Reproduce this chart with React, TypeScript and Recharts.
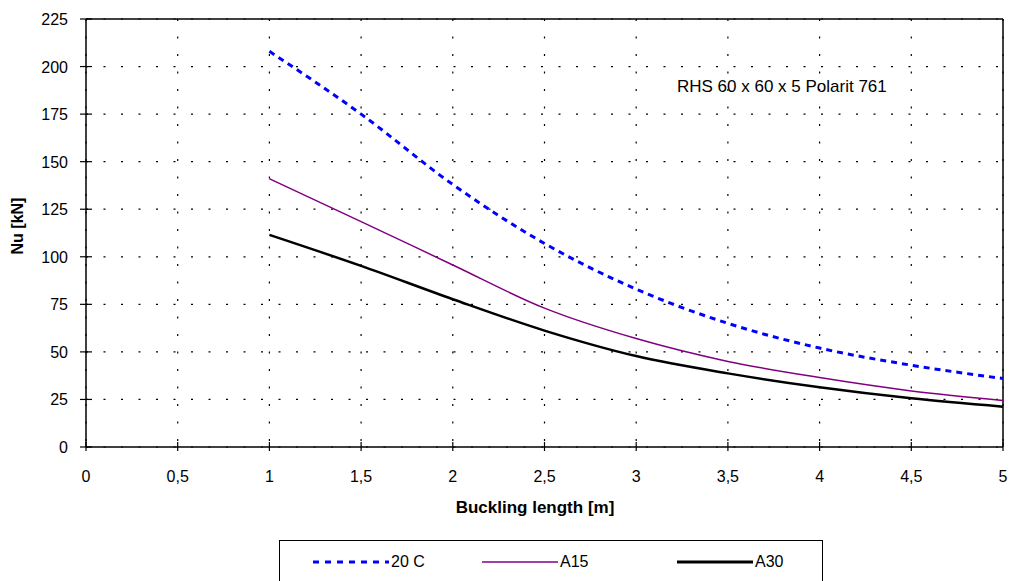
import { LineChart, Line, XAxis, YAxis, CartesianGrid, ReferenceLine } from 'recharts';

// buckling length [m]
const lengths = [1, 1.5, 2, 2.5, 3, 3.5, 4, 4.5, 5];
// Nu [kN] per fire class
const nu20C = [208, 175, 138, 107, 83, 65, 52, 43, 36];
const nuA15 = [141, 118.5, 95.7, 73, 57, 45, 36.5, 29.5, 24.5];
const nuA30 = [111.5, 95.2, 77.7, 61.2, 47.8, 38.7, 31.4, 25.6, 21.2];

const xTicks = [0, 0.5, 1, 1.5, 2, 2.5, 3, 3.5, 4, 4.5, 5];
const yTicks = [0, 25, 50, 75, 100, 125, 150, 175, 200, 225];

const seriesNames = ['20 C', 'A15', 'A30'];

const FONT = '"Liberation Sans", Arial, sans-serif';

const data = lengths.map((x, i) => ({
  x,
  c20: nu20C[i],
  a15: nuA15[i],
  a30: nuA30[i],
}));

const fmt = (v: number) => String(v).replace('.', ',');

// tick mark crosses the axis line, like the old Excel look
function XTick(props: any) {
  const { x, y, payload } = props;
  return (
    <g>
      <line x1={x} x2={x} y1={y - 5} y2={y + 4} stroke="#000" strokeWidth={1.2} />
      <text x={x} y={y + 35} textAnchor="middle" fontSize={16} fontFamily={FONT} fill="#000">
        {fmt(payload.value)}
      </text>
    </g>
  );
}

function YTick(props: any) {
  const { x, y, payload } = props;
  return (
    <g>
      <line x1={x - 6} x2={x + 6} y1={y} y2={y} stroke="#000" strokeWidth={1.2} />
      <text x={x - 18} y={y + 6} textAnchor="end" fontSize={16} fontFamily={FONT} fill="#000">
        {payload.value}
      </text>
    </g>
  );
}

function LegendSwatch({ color, width, dash }: { color: string; width: number; dash?: string }) {
  return (
    <svg width={76} height={8} style={{ display: 'block' }}>
      <line x1={0} x2={76} y1={4} y2={4} stroke={color} strokeWidth={width} strokeDasharray={dash} />
    </svg>
  );
}

export default function App() {
  return (
    <div
      style={{
        position: 'absolute',
        left: 0,
        top: 0,
        width: 1010,
        height: 581,
        overflow: 'hidden',
        background: '#fff',
        fontFamily: FONT,
      }}
    >
      <LineChart width={1010} height={581} data={data} margin={{ top: 19, right: 7, left: 0, bottom: 94 }}>
        <CartesianGrid stroke="#000" strokeWidth={1.2} strokeDasharray="2 15.5" />
        <XAxis
          dataKey="x"
          type="number"
          domain={[0, 5]}
          ticks={xTicks}
          height={40}
          tickSize={0}
          tickMargin={0}
          tickLine={false}
          tick={<XTick />}
          axisLine={{ stroke: '#000', strokeWidth: 1.5 }}
          interval={0}
        />
        <YAxis
          type="number"
          domain={[0, 225]}
          ticks={yTicks}
          width={86}
          tickSize={0}
          tickMargin={0}
          tickLine={false}
          tick={<YTick />}
          axisLine={{ stroke: '#000', strokeWidth: 1.5 }}
          interval={0}
        />
        <ReferenceLine y={225} stroke="#000" strokeWidth={1.5} />
        <ReferenceLine x={5} stroke="#000" strokeWidth={1.5} />
        <Line
          type="monotone"
          dataKey="c20"
          name={seriesNames[0]}
          stroke="#0000FF"
          strokeWidth={3}
          strokeDasharray="6 5"
          dot={false}
          isAnimationActive={false}
        />
        <Line
          type="monotone"
          dataKey="a15"
          name={seriesNames[1]}
          stroke="#800080"
          strokeWidth={1.5}
          dot={false}
          isAnimationActive={false}
        />
        <Line
          type="monotone"
          dataKey="a30"
          name={seriesNames[2]}
          stroke="#000"
          strokeWidth={2.5}
          dot={false}
          isAnimationActive={false}
        />
      </LineChart>

      {/* axis titles and note */}
      <div
        style={{
          position: 'absolute',
          left: 18,
          top: 226,
          transform: 'translate(-50%, -50%) rotate(-90deg)',
          fontSize: 16,
          fontWeight: 'bold',
          whiteSpace: 'nowrap',
        }}
      >
        Nu [kN]
      </div>
      <div
        style={{
          position: 'absolute',
          left: 535,
          top: 508,
          transform: 'translate(-50%, -50%)',
          fontSize: 17,
          fontWeight: 'bold',
          whiteSpace: 'nowrap',
        }}
      >
        Buckling length [m]
      </div>
      <div
        style={{
          position: 'absolute',
          left: 677,
          top: 87,
          transform: 'translateY(-50%)',
          fontSize: 17,
          whiteSpace: 'nowrap',
        }}
      >
        RHS 60 x 60 x 5 Polarit 761
      </div>

      {/* legend */}
      <div
        style={{
          position: 'absolute',
          left: 279,
          top: 540,
          width: 544,
          height: 60,
          border: '1.5px solid #000',
          boxSizing: 'border-box',
          fontSize: 16,
        }}
      >
        <div style={{ position: 'absolute', left: 33, top: 12, display: 'flex', alignItems: 'center' }}>
          <LegendSwatch color="#0000FF" width={3} dash="6 6" />
          <span style={{ marginLeft: 2 }}>{seriesNames[0]}</span>
        </div>
        <div style={{ position: 'absolute', left: 202, top: 12, display: 'flex', alignItems: 'center' }}>
          <LegendSwatch color="#800080" width={1.5} />
          <span style={{ marginLeft: 2 }}>{seriesNames[1]}</span>
        </div>
        <div style={{ position: 'absolute', left: 397, top: 12, display: 'flex', alignItems: 'center' }}>
          <LegendSwatch color="#000" width={3} />
          <span style={{ marginLeft: 2 }}>{seriesNames[2]}</span>
        </div>
      </div>
    </div>
  );
}
